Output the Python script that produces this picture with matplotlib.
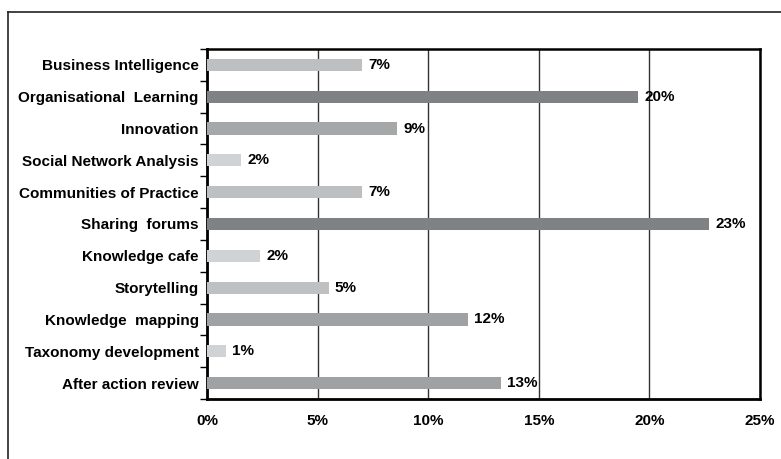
import matplotlib.pyplot as plt
from matplotlib.lines import Line2D

# data, top to bottom as shown
categories = ["Business Intelligence", "Organisational  Learning", "Innovation",
              "Social Network Analysis", "Communities of Practice", "Sharing  forums",
              "Knowledge cafe", "Storytelling", "Knowledge  mapping",
              "Taxonomy development", "After action review"]
values = [7.0, 19.5, 8.6, 1.55, 7.0, 22.7, 2.4, 5.5, 11.8, 0.86, 13.3]
labels = ["7%", "20%", "9%", "2%", "7%", "23%", "2%", "5%", "12%", "1%", "13%"]
colors = ["#bebfc1", "#808184", "#a6a7a9", "#d1d2d4", "#bebfc1", "#808184",
          "#d1d2d4", "#bfc0c2", "#a0a1a3", "#d1d2d4", "#a0a1a3"]
xticks = [0, 5, 10, 15, 20, 25]
xticklabels = ["0%", "5%", "10%", "15%", "20%", "25%"]

plt.rcParams['font.family'] = ['Liberation Sans', 'DejaVu Sans']
plt.rcParams['font.weight'] = 'bold'

fig = plt.figure(figsize=(7.81, 4.59), dpi=100)
ax = fig.add_axes([207 / 781, 1 - 399 / 459, (760 - 207) / 781, (399 - 49) / 459])

ypos = list(range(len(categories)))[::-1]
ax.barh(ypos, values, height=0.38, color=colors, zorder=3)
for y, v, lab in zip(ypos, values, labels):
    ax.text(v + 0.28, y, lab, va='center', ha='left', fontsize=11, fontweight='bold', zorder=4)

ax.set_xlim(0, 25)
ax.set_ylim(-0.5, len(categories) - 0.5)
ax.set_xticks(xticks)
ax.set_xticklabels(xticklabels, fontsize=11, fontweight='bold')
ax.set_yticks(ypos)
ax.set_yticklabels(categories, fontsize=11, fontweight='bold')
ax.tick_params(axis='y', length=0, pad=6)
ax.tick_params(axis='x', length=0, pad=11)
ax.set_yticks([i - 0.5 for i in range(len(categories) + 1)], minor=True)
ax.tick_params(axis='y', which='minor', length=5, width=1, color='black')
ax.grid(axis='x', color='#333333', linewidth=1, zorder=1)

for s in ['left', 'bottom']:
    ax.spines[s].set_linewidth(2)
for s in ['top', 'right']:
    ax.spines[s].set_linewidth(1.8)

# outer frame (cut off at right and bottom)
fig.add_artist(Line2D([8 / 781, 1.0], [1 - 12 / 459, 1 - 12 / 459], color='#222222', lw=1.2, transform=fig.transFigure))
fig.add_artist(Line2D([8 / 781, 8 / 781], [0.0, 1 - 12 / 459], color='#222222', lw=1.2, transform=fig.transFigure))

fig.savefig("out.png", dpi=100)
